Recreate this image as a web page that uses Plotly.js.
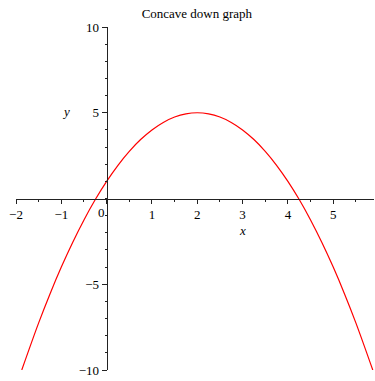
<!DOCTYPE html>
<html>
<head>
<meta charset="utf-8">
<script src="https://cdn.plot.ly/plotly-3.0.1.min.js"></script>
<style>
  html, body { margin: 0; padding: 0; background: #fff; }
  #chart { width: 375px; height: 381px; }
</style>
</head>
<body>
<div id="chart"></div>
<script>
// Sampled points of the concave-down parabola (vertex at (2, 5))
const curveX = [-1.873, -1.5, -1.25, -1, -0.75, -0.5, -0.25, 0, 0.25, 0.5, 0.75, 1, 1.25, 1.5, 1.75, 2,
                2.25, 2.5, 2.75, 3, 3.25, 3.5, 3.75, 4, 4.25, 4.5, 4.75, 5, 5.25, 5.5, 5.873];
const curveY = [-10, -7.25, -5.5625, -4, -2.5625, -1.25, -0.0625, 1, 1.9375, 2.75, 3.4375, 4, 4.4375, 4.75, 4.9375, 5,
                4.9375, 4.75, 4.4375, 4, 3.4375, 2.75, 1.9375, 1, -0.0625, -1.25, -2.5625, -4, -5.5625, -7.25, -10];

const xTicks = [-2, -1, 0, 1, 2, 3, 4, 5];
// the origin label is drawn separately, just left of the vertical axis
const xTickText = ['\u22122', '\u22121', '', '1', '2', '3', '4', '5'];
const yTicks = [-10, -5, 5, 10];

const xRange = [-2, 5.9];
const yRange = [-10, 10];

const serif = 'Liberation Serif, Times New Roman, serif';

const trace = {
  x: curveX,
  y: curveY,
  type: 'scatter',
  mode: 'lines',
  line: { color: '#ff0000', width: 1.2, shape: 'spline', smoothing: 1 },
  hoverinfo: 'skip'
};

// axes cross at the origin
const yAxisPos = (0 - xRange[0]) / (xRange[1] - xRange[0]);
const xAxisPos = (0 - yRange[0]) / (yRange[1] - yRange[0]);

const labelFont = { family: serif, size: 13, color: '#000' };

const layout = {
  width: 375,
  height: 381,
  margin: { l: 16, r: 1, t: 27, b: 11 },
  paper_bgcolor: '#ffffff',
  plot_bgcolor: '#ffffff',
  showlegend: false,
  font: labelFont,
  title: {
    text: 'Concave down graph',
    font: labelFont,
    x: 0.525, xanchor: 'center',
    y: 1 - 13 / 381, yanchor: 'middle', yref: 'container'
  },
  xaxis: {
    range: xRange,
    anchor: 'free',
    position: xAxisPos,
    showgrid: false,
    zeroline: false,
    showline: true,
    linecolor: '#222',
    linewidth: 1,
    tickmode: 'array',
    tickvals: xTicks,
    ticktext: xTickText,
    ticks: 'outside',
    ticklen: 4,
    tickcolor: '#222',
    tickfont: labelFont,
    minor: { tickmode: 'linear', tick0: 0, dtick: 0.5, ticks: 'outside', ticklen: 2, tickcolor: '#222' }
  },
  yaxis: {
    range: yRange,
    anchor: 'free',
    position: yAxisPos,
    showgrid: false,
    zeroline: false,
    showline: true,
    linecolor: '#222',
    linewidth: 1,
    tickmode: 'array',
    tickvals: yTicks,
    ticks: 'outside',
    ticklen: 5,
    tickcolor: '#222',
    tickfont: labelFont,
    minor: { tickmode: 'linear', tick0: 0, dtick: 1, ticks: 'outside', ticklen: 2, tickcolor: '#222' }
  },
  annotations: [
    {
      text: '0', x: 0, y: 0, xref: 'x', yref: 'y',
      xanchor: 'right', yanchor: 'top', xshift: 0, yshift: -4,
      showarrow: false, font: labelFont
    },
    {
      text: '<i>x</i>', x: 3, y: -1.85, xref: 'x', yref: 'y',
      showarrow: false, font: labelFont
    },
    {
      text: '<i>y</i>', x: -0.9, y: 5.05, xref: 'x', yref: 'y',
      showarrow: false, font: labelFont
    }
  ]
};

Plotly.newPlot('chart', [trace], layout, { displayModeBar: false, staticPlot: true });
</script>
</body>
</html>
